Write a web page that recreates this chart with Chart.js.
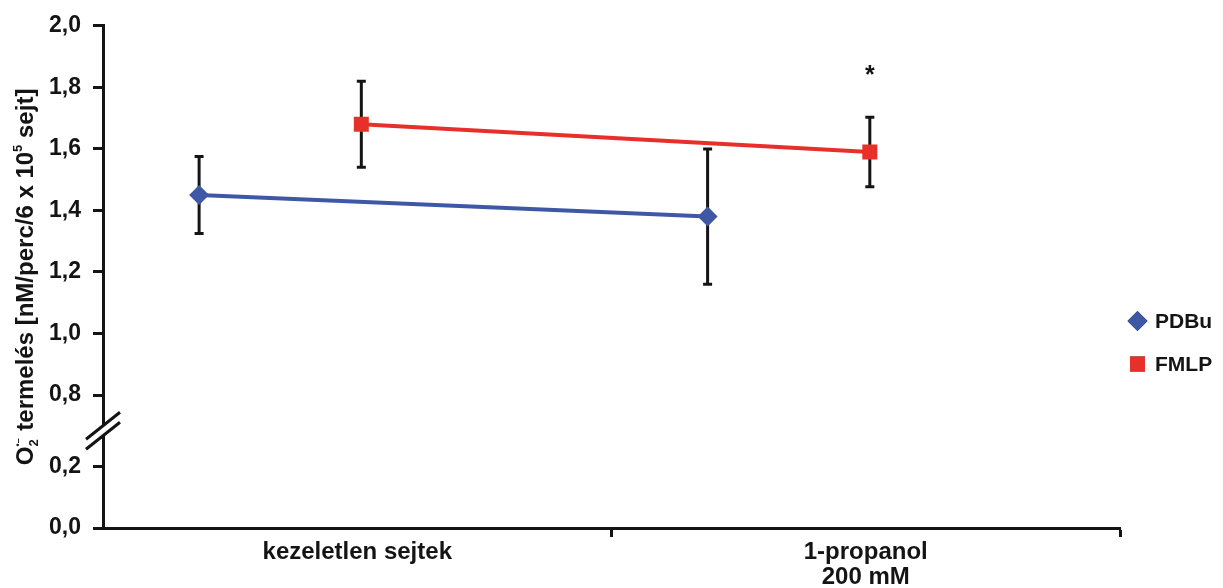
<!DOCTYPE html>
<html>
<head>
<meta charset="utf-8">
<script src="https://cdn.jsdelivr.net/npm/chart.js@4.4.1/dist/chart.umd.min.js"></script>
<style>
  html, body { margin: 0; padding: 0; background: #ffffff; }
  #wrap { width: 1223px; height: 588px; }
</style>
</head>
<body>
<div id="wrap"><canvas id="c" width="1223" height="588"></canvas></div>
<script>
// Superoxide production, mean ± error, per treatment group
const categories = [['kezeletlen sejtek'], ['1-propanol', '200 mM']];
const seriesNames = ['PDBu', 'FMLP'];
const pdbuMean = [1.45, 1.38];
const pdbuErr = [0.125, 0.22];
const fmlpMean = [1.68, 1.59];
const fmlpErr = [0.14, 0.113];
const fmlpMarks = ['', '*'];
const yTickValues = [0, 0.2, 0.8, 1.0, 1.2, 1.4, 1.6, 1.8, 2.0];
const yTickLabels = ['0,0', '0,2', '0,8', '1,0', '1,2', '1,4', '1,6', '1,8', '2,0'];

const FONT = '"Liberation Sans", Arial, Helvetica, sans-serif';
const INK = '#141414';
const BLUE = '#3F58A6';
const RED = '#E8302A';

// Broken value axis: everything from BREAK_HI upward is pulled down so it
// sits GAP above BREAK_LO.
const BREAK_LO = 0.2, BREAK_HI = 0.8, GAP = 0.232;
const toAxis = v => (v <= BREAK_LO ? v : v - BREAK_HI + BREAK_LO + GAP);

// horizontal placement of each series inside its category band
const seriesShift = [-0.311, 0.008];

function points(means, shift) {
  return means.map((v, i) => ({ x: i + 0.5 + shift, y: toAxis(v) }));
}

const errorBars = {
  id: 'errorBars',
  beforeDatasetsDraw(chart) {
    const { ctx, scales: { x, y } } = chart;
    const errs = [pdbuErr, fmlpErr];
    const means = [pdbuMean, fmlpMean];
    ctx.save();
    ctx.strokeStyle = INK;
    ctx.lineWidth = 3;
    ctx.lineCap = 'butt';
    means.forEach((arr, s) => {
      arr.forEach((m, i) => {
        const px = x.getPixelForValue(i + 0.5 + seriesShift[s]);
        const top = y.getPixelForValue(toAxis(m + errs[s][i]));
        const bot = y.getPixelForValue(toAxis(m - errs[s][i]));
        ctx.beginPath();
        ctx.moveTo(px, top); ctx.lineTo(px, bot);
        ctx.moveTo(px - 4.5, top); ctx.lineTo(px + 4.5, top);
        ctx.moveTo(px - 4.5, bot); ctx.lineTo(px + 4.5, bot);
        ctx.stroke();
      });
    });
    ctx.restore();
  },
  afterDatasetsDraw(chart) {
    const { ctx, scales: { x, y } } = chart;
    ctx.save();
    ctx.fillStyle = INK;
    ctx.font = 'bold 25px ' + FONT;
    ctx.textAlign = 'center';
    ctx.textBaseline = 'alphabetic';
    fmlpMarks.forEach((mk, i) => {
      if (!mk) return;
      const px = x.getPixelForValue(i + 0.5 + seriesShift[1]);
      const top = y.getPixelForValue(toAxis(fmlpMean[i] + fmlpErr[i]));
      ctx.fillText(mk, px, top - 34);
    });
    ctx.restore();
  }
};

const axisBreak = {
  id: 'axisBreak',
  afterDraw(chart) {
    const { ctx, scales: { y } } = chart;
    const ax = chart.chartArea.left;
    const cy = (y.getPixelForValue(BREAK_LO) + y.getPixelForValue(BREAK_LO + GAP)) / 2;
    const hw = 17, hh = 13.5, sep = 5;
    ctx.save();
    // clear the axis line between the two slashes
    ctx.fillStyle = '#ffffff';
    ctx.beginPath();
    ctx.moveTo(ax - hw, cy - sep + hh);
    ctx.lineTo(ax + hw, cy - sep - hh);
    ctx.lineTo(ax + hw, cy + sep - hh);
    ctx.lineTo(ax - hw, cy + sep + hh);
    ctx.closePath();
    ctx.fill();
    ctx.strokeStyle = INK;
    ctx.lineWidth = 3;
    ctx.beginPath();
    ctx.moveTo(ax - hw, cy - sep + hh); ctx.lineTo(ax + hw, cy - sep - hh);
    ctx.moveTo(ax - hw, cy + sep + hh); ctx.lineTo(ax + hw, cy + sep - hh);
    ctx.stroke();
    ctx.restore();
  }
};

const sideLegend = {
  id: 'sideLegend',
  afterDraw(chart) {
    const { ctx } = chart;
    const rows = [321, 364];
    ctx.save();
    chart.data.datasets.forEach((ds, i) => {
      const cy = rows[i];
      Chart.helpers.drawPoint(ctx, {
        pointStyle: ds.pointStyle, radius: ds.pointRadius, rotation: 0, borderWidth: 0
      }, 1137.5, cy);
      ctx.fillStyle = ds.backgroundColor;
      ctx.fill();
      ctx.fillStyle = INK;
      ctx.font = 'bold 21px ' + FONT;
      ctx.textAlign = 'left';
      ctx.textBaseline = 'middle';
      ctx.fillText(ds.label, 1155, cy + 1);
    });
    ctx.restore();
  }
};

const yTitle = {
  id: 'yTitle',
  afterDraw(chart) {
    const { ctx } = chart;
    const big = 'bold 24px ' + FONT;
    const small = 'bold 13px ' + FONT;
    const parts = [
      { t: 'O', f: big, dy: 0 },
      { t: '\u2022\u2013', f: 'bold 9px ' + FONT, dy: -12, under: { t: '2', f: small, dy: 5 } },
      { t: ' termelés [nM/perc/6 x 10', f: big, dy: 0 },
      { t: '5', f: small, dy: -11 },
      { t: ' sejt]', f: big, dy: 0 }
    ];
    ctx.save();
    let total = 0;
    parts.forEach(p => {
      ctx.font = p.f;
      let w = ctx.measureText(p.t).width;
      if (p.under) { ctx.font = p.under.f; w = Math.max(w, ctx.measureText(p.under.t).width); }
      p.w = w + (p.under ? 1 : 0);
      total += p.w;
    });
    const midY = (chart.chartArea.top + chart.chartArea.bottom) / 2;
    ctx.translate(33, midY);
    ctx.rotate(-Math.PI / 2);
    ctx.fillStyle = INK;
    ctx.textAlign = 'left';
    ctx.textBaseline = 'alphabetic';
    let cx = -total / 2;
    parts.forEach(p => {
      ctx.font = p.f;
      ctx.fillText(p.t, cx, p.dy);
      if (p.under) { ctx.font = p.under.f; ctx.fillText(p.under.t, cx, p.under.dy); }
      cx += p.w;
    });
    ctx.restore();
  }
};

new Chart(document.getElementById('c'), {
  type: 'line',
  data: {
    datasets: [
      {
        label: seriesNames[0],
        data: points(pdbuMean, seriesShift[0]),
        borderColor: BLUE, backgroundColor: BLUE, borderWidth: 4,
        pointStyle: 'rectRot', pointRadius: 10, pointBorderWidth: 0,
        pointBackgroundColor: BLUE, tension: 0
      },
      {
        label: seriesNames[1],
        data: points(fmlpMean, seriesShift[1]),
        borderColor: RED, backgroundColor: RED, borderWidth: 4,
        pointStyle: 'rect', pointRadius: 10.6, pointBorderWidth: 0,
        pointBackgroundColor: RED, tension: 0
      }
    ]
  },
  options: {
    responsive: false,
    animation: false,
    devicePixelRatio: 1,
    layout: { padding: { top: 25, right: 103, left: 0, bottom: 0 } },
    plugins: { legend: { display: false }, tooltip: { enabled: false } },
    scales: {
      x: {
        type: 'linear', min: 0, max: 2,
        afterBuildTicks: s => { s.ticks = [0.5, 1, 1.5, 2].map(v => ({ value: v })); },
        afterFit: s => { s.height = 60; },
        ticks: {
          autoSkip: false, maxRotation: 0, padding: 3, color: INK,
          font: { family: FONT, size: 24, weight: 'bold', lineHeight: 1.05 },
          callback: v => (v % 1 === 0.5 ? categories[Math.floor(v)] : '')
        },
        grid: {
          drawOnChartArea: false, tickLength: 9, tickWidth: 3,
          tickColor: c => (c.tick && Number.isInteger(c.tick.value) ? INK : 'rgba(0,0,0,0)')
        },
        border: { display: true, width: 3, color: INK }
      },
      y: {
        type: 'linear', min: 0, max: toAxis(2.0),
        afterBuildTicks: s => { s.ticks = yTickValues.map(v => ({ value: toAxis(v) })); },
        afterFit: s => { s.width = 103; },
        ticks: {
          autoSkip: false, padding: 12, color: INK,
          font: { family: FONT, size: 23, weight: 'bold' },
          callback: (v, i) => yTickLabels[i]
        },
        grid: { drawOnChartArea: false, tickLength: 10, tickWidth: 3, tickColor: INK },
        border: { display: true, width: 3, color: INK }
      }
    }
  },
  plugins: [errorBars, axisBreak, sideLegend, yTitle]
});
</script>
</body>
</html>
